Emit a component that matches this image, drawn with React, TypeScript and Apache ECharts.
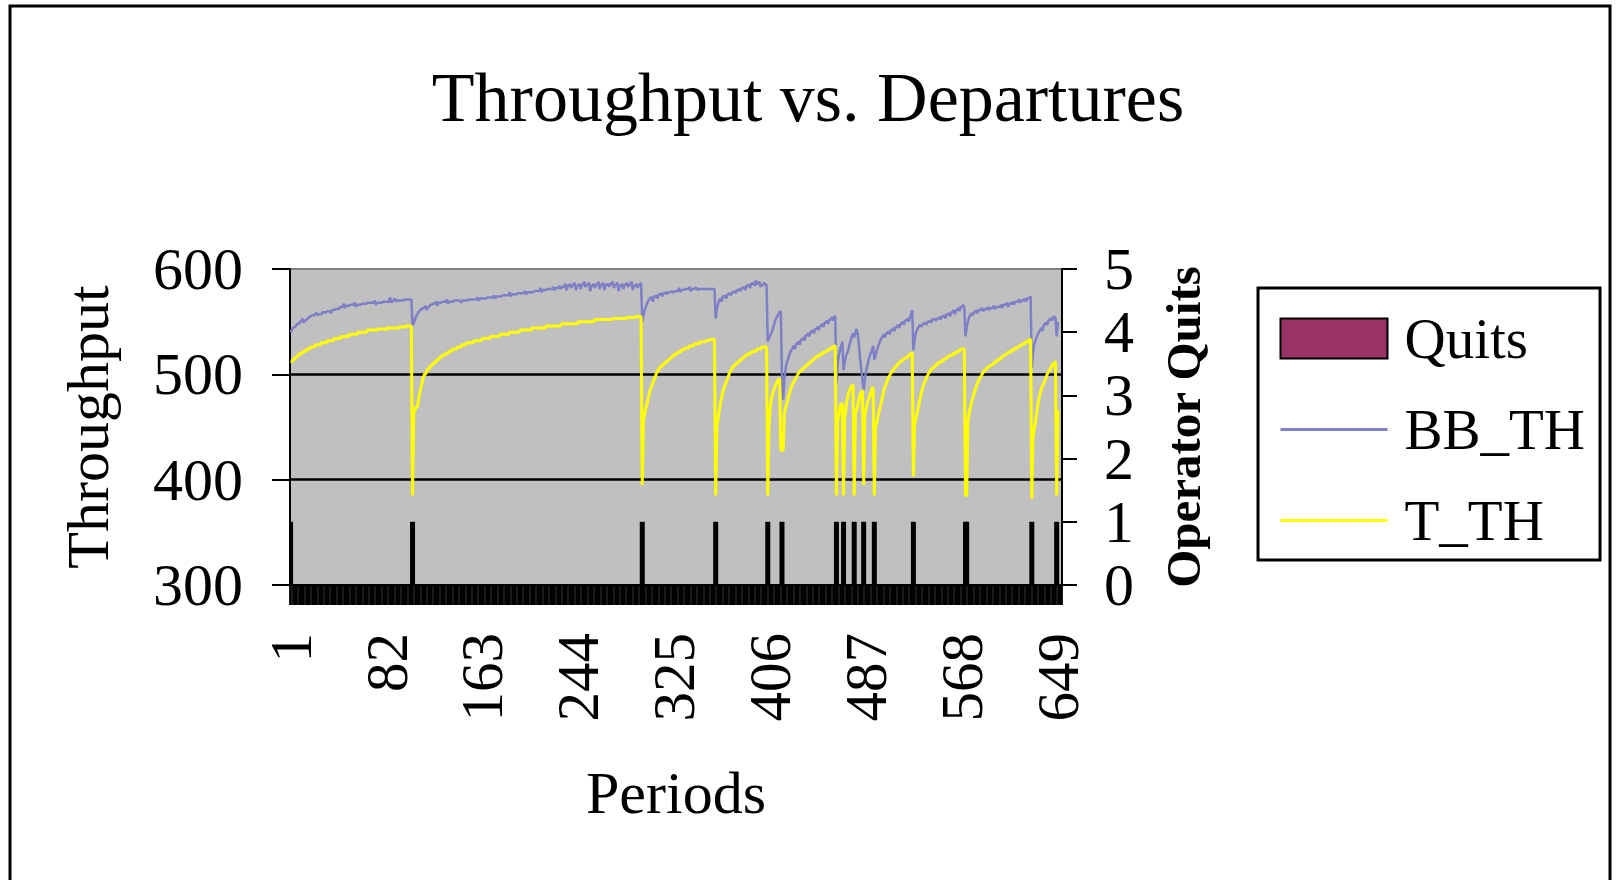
import React, { useEffect, useRef } from "react";
import * as echarts from "echarts";

const TITLE = "Throughput vs. Departures";
const X_NAME = "Periods";
const Y_LEFT_NAME = "Throughput";
const Y_RIGHT_NAME = "Operator Quits";
const PERIOD_COUNT = 652;

// periods in which an operator quit (value 1 on the right axis)
const quitPeriods = [1, 104, 298, 360, 404, 416, 462, 468, 477, 485, 494, 527, 571, 572, 627, 648];

// T_TH as [value, number of consecutive periods]
const tthRuns: [number, number][] = [
  [512, 2], [514, 2], [516, 2], [518, 2], [520, 3], [522, 3], [524, 3], [526, 4], [528, 5], [530, 5],
  [532, 6], [534, 6], [536, 7], [538, 7], [540, 8], [542, 9], [543, 8], [544, 10], [545, 6], [546, 5],
  [385, 1],
  [463, 1], [466, 1], [469, 2], [476, 1], [482, 1], [487, 1], [492, 1], [497, 1], [500, 2], [503, 1],
  [505, 2], [508, 2], [510, 2], [512, 2], [514, 2], [516, 2], [518, 3], [520, 3], [522, 3], [524, 4],
  [526, 4], [528, 4], [530, 6], [532, 7], [534, 7], [536, 8], [538, 8], [540, 9], [542, 10], [544, 12],
  [546, 13], [548, 14], [550, 14], [552, 15], [553, 12], [554, 8], [555, 5],
  [395, 1],
  [457, 1], [462, 1], [468, 1], [472, 1], [477, 1], [482, 1], [486, 1], [489, 1], [492, 1], [495, 1],
  [498, 1], [501, 1], [503, 1], [505, 1], [507, 2], [509, 2], [511, 2], [513, 2], [515, 2], [517, 2],
  [519, 3], [521, 3], [523, 3], [525, 4], [527, 4], [529, 5], [531, 5], [532, 3], [533, 5],
  [385, 1],
  [450, 1], [458, 1], [466, 1], [473, 1], [478, 1], [483, 1], [487, 1], [490, 1], [493, 1], [496, 1],
  [499, 1], [502, 1], [504, 1], [506, 1], [508, 2], [510, 2], [512, 2], [514, 2], [516, 2], [518, 3],
  [520, 3], [522, 4], [524, 4], [526, 5],
  [385, 1],
  [450, 1], [468, 1], [476, 1], [481, 1], [485, 1], [488, 1], [491, 1], [493, 1], [495, 1], [496, 1],
  [428, 3],
  [463, 1], [468, 1], [472, 1], [476, 1], [481, 1], [485, 1], [488, 1], [491, 1], [493, 1], [495, 1],
  [497, 1], [499, 1], [501, 1], [503, 2], [505, 2], [507, 2], [509, 2], [511, 2], [513, 2], [515, 2],
  [517, 3], [519, 3], [521, 3], [523, 3], [525, 3], [527, 2],
  [385, 1],
  [456, 1], [462, 1], [469, 1], [472, 2],
  [385, 1],
  [458, 1], [468, 1], [476, 1], [481, 1], [485, 1], [487, 1], [489, 1], [490, 1],
  [385, 1],
  [463, 1], [466, 1], [470, 1], [476, 1], [480, 1], [483, 1], [485, 1],
  [395, 1],
  [462, 1], [467, 1], [472, 1], [476, 1], [479, 1], [483, 1], [486, 1], [488, 1],
  [385, 1],
  [450, 1], [454, 1], [460, 1], [465, 1], [469, 1], [474, 1], [479, 1], [485, 1], [488, 1], [491, 1],
  [494, 1], [497, 1], [499, 1], [501, 1], [503, 1], [504, 1], [506, 1], [507, 1], [508, 1], [510, 1],
  [511, 1], [512, 1], [513, 2], [515, 2], [516, 2], [518, 2], [520, 2],
  [403, 1],
  [452, 1], [458, 1], [463, 1], [468, 1], [474, 1], [479, 1], [484, 1], [488, 1], [491, 1], [494, 1],
  [497, 1], [499, 1], [501, 1], [503, 1], [505, 2], [507, 2], [509, 2], [511, 2], [512, 2], [514, 2],
  [515, 2], [517, 2], [518, 3], [520, 3], [522, 3], [524, 4],
  [385, 2],
  [455, 1], [463, 1], [468, 1], [473, 1], [477, 1], [481, 1], [485, 1], [488, 1], [491, 1], [494, 1],
  [496, 1], [498, 1], [500, 1], [502, 1], [504, 2], [506, 2], [508, 2], [509, 2], [511, 2], [513, 2],
  [514, 2], [516, 2], [518, 2], [519, 2], [521, 3], [523, 3], [525, 3], [527, 3], [529, 3], [531, 3],
  [533, 2],
  [382, 1],
  [440, 1], [448, 1], [454, 1], [462, 1], [470, 1], [477, 1], [482, 1], [486, 1], [489, 1], [491, 1],
  [494, 1], [497, 1], [500, 1], [502, 1], [504, 1], [506, 1], [508, 1], [510, 1], [511, 1], [512, 1],
  [385, 1],
  [466, 1],
];

// BB_TH as [value, number of consecutive periods]
const bbthRuns: [number, number][] = [
  [540, 1], [542, 1], [544, 1], [545, 2], [547, 1], [548, 2], [550, 2], [553, 1], [549, 1], [551, 2],
  [553, 2], [555, 2], [556, 3], [558, 2], [556, 1], [557, 3], [559, 4], [560, 3], [558, 1], [561, 3],
  [562, 4], [564, 3], [567, 1], [563, 1], [565, 3], [566, 4], [568, 1], [564, 1], [566, 4], [567, 5],
  [568, 6], [570, 1], [566, 1], [568, 5], [569, 6], [573, 1], [568, 1], [570, 2], [572, 1], [569, 1],
  [570, 6], [571, 7],
  [546, 1], [549, 1], [552, 1], [555, 1], [557, 1], [559, 1], [560, 1], [562, 2], [563, 2], [565, 1],
  [561, 1], [564, 2], [566, 2], [567, 3], [569, 1], [565, 1], [568, 3], [569, 4], [571, 1], [567, 1],
  [569, 4], [570, 6], [568, 1], [570, 5], [571, 8], [573, 1], [570, 1], [572, 6], [573, 6], [575, 1],
  [572, 1], [574, 5], [575, 6], [578, 1], [574, 1], [576, 5], [577, 6], [579, 1], [576, 1], [578, 6],
  [579, 5], [582, 1], [578, 1], [580, 4], [581, 5], [583, 1], [580, 1], [582, 3], [584, 1], [581, 1],
  [583, 3],
  [586, 1], [580, 1], [584, 2], [586, 1], [582, 1], [585, 2], [587, 1], [580, 1], [584, 2], [586, 1],
  [581, 1], [585, 2], [588, 1], [583, 1], [585, 2], [587, 1], [579, 1], [584, 2], [586, 1], [582, 1],
  [585, 2], [588, 1], [581, 1], [585, 2], [587, 1], [580, 1], [585, 2], [586, 1], [583, 1], [586, 2],
  [588, 1], [582, 1], [585, 2], [587, 1], [579, 1], [584, 2], [586, 1], [581, 1], [585, 2], [587, 1],
  [583, 1], [585, 2], [588, 1], [580, 1], [584, 2], [586, 1], [582, 1], [585, 2], [587, 1],
  [550, 1], [556, 1], [561, 1], [564, 1], [567, 1], [570, 1], [571, 1], [573, 2], [569, 1], [574, 2],
  [575, 1], [572, 1], [576, 2], [577, 1], [574, 1], [577, 2], [578, 1], [576, 1], [578, 3], [579, 1],
  [578, 2], [579, 3], [582, 1], [578, 1], [580, 3], [581, 4], [583, 1], [579, 1], [581, 3], [582, 2],
  [580, 1], [581, 14],
  [553, 1], [562, 1], [567, 1], [570, 1], [572, 1], [569, 1], [574, 2], [575, 1], [572, 1], [576, 2],
  [577, 1], [575, 1], [578, 2], [579, 1], [577, 1], [580, 2], [581, 1], [579, 1], [582, 2], [583, 1],
  [580, 1], [584, 2], [585, 1], [582, 1], [586, 2], [587, 1], [584, 1], [589, 1], [586, 2], [588, 1],
  [583, 1], [585, 2], [587, 1], [585, 2],
  [531, 1], [534, 1], [537, 1], [539, 1], [542, 1], [546, 1], [550, 1], [553, 1], [555, 1], [557, 1],
  [559, 1], [560, 1], [498, 1], [476, 1],
  [495, 1], [505, 1], [511, 1], [514, 1], [518, 1], [521, 1], [523, 1], [525, 1], [527, 1], [524, 1],
  [529, 2], [531, 1], [528, 1], [533, 2], [535, 1], [532, 1], [537, 2], [539, 1], [536, 1], [540, 2],
  [542, 1], [539, 1], [543, 2], [545, 1], [542, 1], [546, 2], [548, 1], [545, 1], [549, 2], [551, 1],
  [548, 1], [552, 2], [554, 1], [551, 1], [555, 2],
  [492, 1], [510, 1], [518, 1], [523, 1], [527, 1], [531, 1],
  [504, 1],
  [512, 1], [517, 1], [520, 1], [523, 1], [528, 1], [532, 1], [536, 1], [539, 1],
  [535, 1], [540, 1], [543, 1], [538, 1], [528, 1], [515, 1], [505, 1], [495, 1],
  [485, 1],
  [495, 1], [503, 1], [508, 1], [513, 1], [517, 1], [520, 1], [523, 1], [527, 1],
  [514, 1],
  [518, 1], [522, 1], [526, 1], [529, 1], [532, 1], [534, 1], [536, 1], [538, 1], [535, 1], [539, 2],
  [541, 1], [538, 1], [542, 2], [544, 1], [541, 1], [545, 2], [547, 1], [544, 1], [548, 2], [550, 1],
  [547, 1], [551, 2], [553, 1], [550, 1], [554, 1], [557, 1], [561, 1],
  [523, 1], [533, 1], [539, 1], [542, 1], [544, 1], [546, 1], [547, 1], [545, 1], [548, 2], [549, 1],
  [547, 1], [550, 2], [551, 1], [549, 1], [552, 2], [553, 1], [551, 1], [553, 2], [554, 1], [552, 1],
  [555, 2], [556, 1], [553, 1], [557, 2], [558, 1], [555, 1], [559, 2], [561, 1], [557, 1], [561, 2],
  [563, 1], [560, 1], [564, 2], [566, 1], [563, 1],
  [536, 1], [545, 1],
  [550, 1], [554, 1], [556, 1], [558, 1], [556, 1], [559, 2], [561, 1], [558, 1], [561, 3], [563, 1],
  [560, 1], [562, 3], [564, 1], [561, 1], [563, 3], [565, 1], [562, 1], [564, 4], [566, 1], [563, 1],
  [566, 3], [568, 1], [564, 1], [567, 3], [569, 1], [566, 1], [569, 3], [571, 1], [568, 1], [570, 3],
  [572, 1], [569, 1], [572, 3], [574, 1],
  [506, 1], [520, 1], [528, 1], [532, 1], [535, 1], [538, 1], [540, 1], [542, 1], [544, 1], [541, 1],
  [546, 1], [548, 1], [549, 1], [547, 1], [551, 1], [552, 1], [553, 1], [551, 1], [554, 1], [555, 1],
  [553, 1],
  [536, 1], [550, 1],
];

const FONT = "'Liberation Serif', 'Times New Roman', Times, serif";
const BB_COLOR = "#7f7fc6";
const T_COLOR = "#ffff00";

function expandRuns(runs: [number, number][]): number[] {
  const out: number[] = [];
  for (const [v, n] of runs) {
    for (let i = 0; i < n; i++) out.push(v);
  }
  return out;
}

export default function App() {
  const ref = useRef<HTMLDivElement>(null);

  useEffect(() => {
    if (!ref.current) return;
    const chart = echarts.init(ref.current, null, { renderer: "svg" });
    const categories = Array.from({ length: PERIOD_COUNT }, (_, i) => String(i + 1));
    const tth = expandRuns(tthRuns);
    const bbth = expandRuns(bbthRuns);
    const quits = categories.map((_, i) => (quitPeriods.includes(i + 1) ? 1 : 0));

    chart.setOption({
      animation: false,
      backgroundColor: "#ffffff",
      textStyle: { fontFamily: FONT, color: "#000" },
      title: {
        text: TITLE,
        left: "center",
        top: 57,
        textStyle: { fontFamily: FONT, fontSize: 70, fontWeight: "normal", color: "#000" },
      },
      legend: {
        orient: "vertical",
        left: 1258,
        top: 288,
        padding: [22, 15, 11, 21],
        itemGap: 34,
        itemWidth: 107,
        itemHeight: 40,
        borderColor: "#000",
        borderWidth: 3,
        backgroundColor: "#ffffff",
        textStyle: { fontFamily: FONT, fontSize: 57, color: "#000", padding: [0, 0, 0, 12] },
        data: [
          { name: "Quits", icon: "rect", itemStyle: { color: "#993366", borderColor: "#000", borderWidth: 2 } },
          {
            name: "BB_TH",
            itemStyle: { opacity: 0, color: "rgba(0,0,0,0)", borderWidth: 0 },
            lineStyle: { color: BB_COLOR, width: 3 },
          },
          {
            name: "T_TH",
            itemStyle: { opacity: 0, color: "rgba(0,0,0,0)", borderWidth: 0 },
            lineStyle: { color: T_COLOR, width: 3 },
          },
        ],
      },
      grid: {
        left: 290,
        top: 269,
        width: 772,
        height: 316,
        show: true,
        backgroundColor: "#c0c0c0",
        borderColor: "#808080",
        borderWidth: 2,
      },
      xAxis: {
        type: "category",
        data: categories,
        boundaryGap: true,
        name: X_NAME,
        nameLocation: "middle",
        nameGap: 178,
        nameTextStyle: { fontFamily: FONT, fontSize: 60, color: "#000" },
        axisLine: { lineStyle: { color: "#000", width: 2 } },
        axisTick: { show: true, interval: 0, length: 20, lineStyle: { color: "#000", width: 1.8 } },
        axisLabel: { interval: 80, rotate: 90, margin: 48, fontSize: 59, color: "#000", fontFamily: FONT },
        splitLine: { show: false },
      },
      yAxis: [
        {
          type: "value",
          min: 300,
          max: 600,
          interval: 100,
          position: "left",
          name: Y_LEFT_NAME,
          nameLocation: "middle",
          nameRotate: 90,
          nameGap: 172,
          nameTextStyle: { fontFamily: FONT, fontSize: 60, fontWeight: "normal", color: "#000" },
          axisLine: { show: true, lineStyle: { color: "#000", width: 2 } },
          axisTick: { show: true, length: 18, lineStyle: { color: "#000", width: 2 } },
          axisLabel: { margin: 47, fontSize: 60, color: "#000", fontFamily: FONT },
          splitLine: { show: true, showMinLine: false, showMaxLine: false, lineStyle: { color: "#000", width: 2.5 } },
        },
        {
          type: "value",
          min: 0,
          max: 5,
          interval: 1,
          position: "right",
          name: Y_RIGHT_NAME,
          nameLocation: "middle",
          nameRotate: 90,
          nameGap: 97,
          nameTextStyle: { fontFamily: FONT, fontSize: 49, fontWeight: "bold", color: "#000" },
          axisLine: { show: true, lineStyle: { color: "#000", width: 2 } },
          axisTick: { show: true, length: 15, lineStyle: { color: "#000", width: 2 } },
          axisLabel: { margin: 42, fontSize: 60, color: "#000", fontFamily: FONT },
          splitLine: { show: false },
        },
      ],
      series: [
        {
          name: "Quits",
          type: "bar",
          yAxisIndex: 1,
          data: quits,
          barWidth: 5,
          itemStyle: { color: "#000" },
          z: 1,
        },
        {
          name: "BB_TH",
          type: "line",
          yAxisIndex: 0,
          data: bbth,
          symbol: "none",
          showSymbol: false,
          lineStyle: { color: BB_COLOR, width: 2.5 },
          itemStyle: { color: BB_COLOR },
          z: 2,
        },
        {
          name: "T_TH",
          type: "line",
          yAxisIndex: 0,
          data: tth,
          symbol: "none",
          showSymbol: false,
          lineStyle: { color: T_COLOR, width: 3 },
          itemStyle: { color: T_COLOR },
          z: 3,
        },
      ],
      graphic: [
        {
          type: "rect",
          shape: { x: 10, y: 6, width: 1600, height: 900 },
          style: { fill: "none", stroke: "#000", lineWidth: 3 },
          silent: true,
          z: -1,
        },
      ],
    });

    return () => chart.dispose();
  }, []);

  return (
    <div
      ref={ref}
      style={{ position: "absolute", left: 0, top: 0, width: 1616, height: 880, background: "#fff" }}
    />
  );
}
